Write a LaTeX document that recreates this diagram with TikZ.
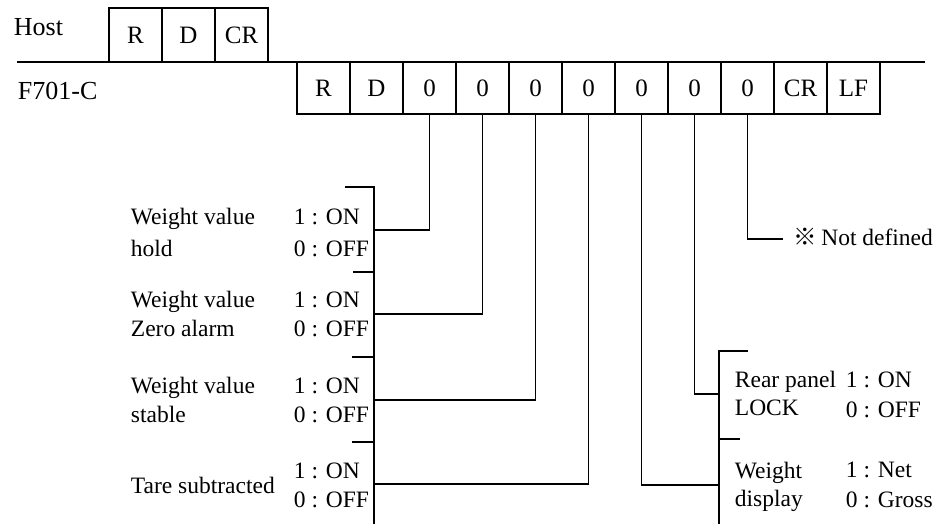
\documentclass[tikz,border=0pt]{standalone}
\usepackage{fontspec}
\setmainfont{Liberation Serif}
\newfontfamily\cjkfont{Noto Sans CJK JP}
\begin{document}
\begin{tikzpicture}[x=0.5pt,y=-0.5pt,line width=0.9pt,
  cell/.style={draw,minimum width=26.5pt,minimum height=26pt,inner sep=0pt,font=\fontsize{12.5}{14}\selectfont},
  hcell/.style={cell,minimum height=27pt},
  lbl/.style={anchor=base west,inner sep=0pt,font=\fontsize{11.75}{14}\selectfont},
  head/.style={anchor=base west,inner sep=0pt,font=\fontsize{13}{15}\selectfont}]
\useasboundingbox (0,0) rectangle (952,524);
% headings
\node[head] (host) at (13,36) {Host};
\node[head] (dev) at (17,99) {F701-C};
% host boxes
\node[hcell] (h1) at (135.5,35) {R};
\node[hcell] (h2) at (188.5,35) {D};
\node[hcell] (h3) at (241.5,35) {CR};
% device boxes
\foreach \t [count=\i] in {R,D,0,0,0,0,0,0,0,CR,LF}
  \node[cell] (f\i) at (270.5+53*\i,88) {\t};
% time line
\coordinate (tl) at (17,62);
\coordinate (tr) at (925,62);
\draw (tl) -- (tr);
% left bracket
\coordinate (Lt) at (374,187);
\coordinate (Lb) at (374,524);
\draw (345,187) -- (Lt) -- (Lb);
\draw (353,272) -- (374,272);
\draw (352,357) -- (374,357);
\draw (352,442) -- (374,442);
\coordinate (L1) at (374,230);
\coordinate (L2) at (374,314);
\coordinate (L3) at (374,400);
\coordinate (L4) at (374,484);
\draw (f3.south) |- (L1);
\draw (f4.south) |- (L2);
\draw (f5.south) |- (L3);
\draw (f6.south) |- (L4);
% right bracket
\coordinate (Rt) at (719,351);
\coordinate (Rb) at (719,524);
\draw (748,351) -- (Rt) -- (Rb);
\draw (719,439) -- (740,439);
\coordinate (R1) at (719,394);
\coordinate (R2) at (719,485);
\draw (f8.south) |- (R1);
\draw (f7.south) |- (R2);
% not defined
\node[lbl] (nd) at (793,245) {{\cjkfont ※}\,Not defined};
\coordinate (N1) at (783,239);
\draw (f9.south) |- (N1);
% left labels
\node[lbl] (a1) at (130,224) {Weight value};
\node[lbl] (a2) at (130,256) {hold};
\node[lbl] (a3) at (293,224) {1 : ON};
\node[lbl] (a4) at (293,256) {0 : OFF};
\node[lbl] (b1) at (130,307) {Weight value};
\node[lbl] (b2) at (130,336) {Zero alarm};
\node[lbl] (b3) at (293,307) {1 : ON};
\node[lbl] (b4) at (293,336) {0 : OFF};
\node[lbl] (c1) at (130,393) {Weight value};
\node[lbl] (c2) at (130,422) {stable};
\node[lbl] (c3) at (293,393) {1 : ON};
\node[lbl] (c4) at (293,422) {0 : OFF};
\node[lbl] (d1) at (130,493) {Tare subtracted};
\node[lbl] (d3) at (293,478) {1 : ON};
\node[lbl] (d4) at (293,507) {0 : OFF};
% right labels
\node[lbl] (e1) at (734,387) {Rear panel};
\node[lbl] (e2) at (734,415) {LOCK};
\node[lbl] (e3) at (845,387) {1 : ON};
\node[lbl] (e4) at (845,417) {0 : OFF};
\node[lbl] (g1) at (734,478) {Weight};
\node[lbl] (g2) at (734,506) {display};
\node[lbl] (g3) at (845,477) {1 : Net};
\node[lbl] (g4) at (845,507) {0 : Gross};
\end{tikzpicture}
\end{document}
